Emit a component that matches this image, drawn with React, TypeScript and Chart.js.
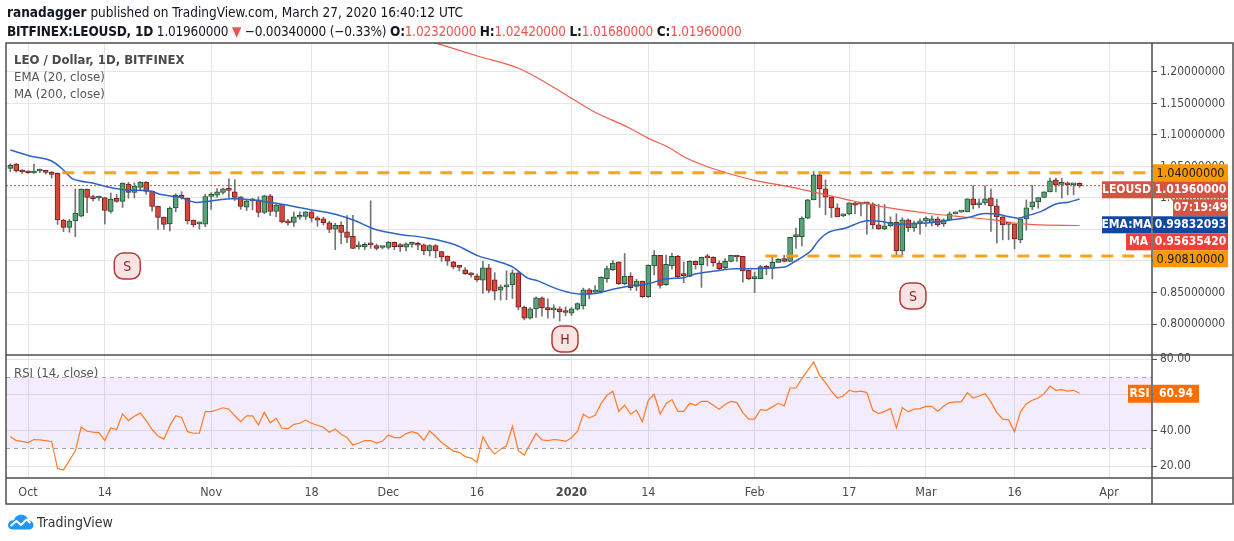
import React, { useEffect, useRef } from 'react';
import { Chart, registerables } from 'chart.js';

Chart.register(...registerables);

const FONT = "'Liberation Sans Narrow', 'DejaVu Sans Condensed', 'Liberation Sans', sans-serif";

// Daily candles, day 0 = 2019-09-28, last = 2020-03-27
const START_DATE = '2019-09-28';
const OPEN = [
  1.047, 1.054, 1.0434, 1.042, 1.0397, 1.0428, 1.0429, 1.0413, 1.039, 0.965,
  0.9534, 0.9635, 0.971, 1.0143, 1.0016, 1.0, 1.0005, 0.9788, 1.0, 0.9947,
  1.0222, 1.009, 1.0169, 1.0254, 1.0111, 0.9873, 0.9698, 0.9587, 0.9841, 1.0048,
  1.0, 0.9651, 0.959, 0.9585, 1.0026, 1.0045, 1.0087, 1.014, 1.0098, 1.0018,
  0.9854, 0.9955, 0.997, 0.977, 1.0034, 0.9786, 0.99, 0.9637, 0.9611, 0.9695,
  0.9706, 0.978, 0.9685, 0.967, 0.9606, 0.9507, 0.9568, 0.9463, 0.9394, 0.9225,
  0.9225, 0.9262, 0.9246, 0.9214, 0.9214, 0.9295, 0.9235, 0.922, 0.9265, 0.9272,
  0.9257, 0.9161, 0.9246, 0.915, 0.9077, 0.8987, 0.8918, 0.886, 0.8796, 0.8765,
  0.8696, 0.8892, 0.87, 0.8537, 0.859, 0.8622, 0.8812, 0.8267, 0.8093, 0.824,
  0.8415, 0.8262, 0.8225, 0.824, 0.8204, 0.8172, 0.8236, 0.8288, 0.8542, 0.8505,
  0.8515, 0.872, 0.8862, 0.8984, 0.864, 0.8757, 0.8598, 0.8683, 0.8434, 0.8921,
  0.909, 0.8624, 0.8921, 0.9074, 0.8775, 0.8757, 0.8995, 0.8942, 0.9055, 0.9058,
  0.8968, 0.8894, 0.8995, 0.909, 0.9074, 0.8852, 0.872, 0.872, 0.8915, 0.8884,
  0.8979, 0.9037, 0.8995, 0.9386, 0.9386, 0.968, 0.9971, 1.0368, 1.0146, 1.0013,
  0.9844, 0.9717, 0.9749, 0.9923, 0.9902, 0.9928, 0.9907, 0.9574, 0.9511, 0.9558,
  0.9616, 0.9161, 0.9653, 0.9526, 0.9606, 0.9632, 0.9606, 0.9669, 0.959, 0.9653,
  0.9749, 0.9775, 0.978, 0.9987, 0.9892, 0.9923, 1.0003, 0.9876, 0.9701, 0.958,
  0.959, 0.9336, 0.9669, 0.986, 0.9939, 1.0008, 1.0098, 1.0288, 1.0215, 1.0241,
  1.0209, 1.0232,
];
const HIGH = [
  1.0545, 1.055, 1.045, 1.043, 1.054, 1.046, 1.044, 1.042, 1.04, 0.966,
  0.966, 1.0143, 1.0143, 1.0143, 1.0048, 1.0032, 1.0005, 1.008, 1.006, 1.024,
  1.0248, 1.024, 1.026, 1.026, 1.0111, 0.9873, 0.9698, 0.986, 1.0068, 1.01,
  1.0, 0.9651, 0.962, 1.006, 1.0087, 1.015, 1.0156, 1.0305, 1.029, 1.002,
  0.998, 0.9995, 1.002, 1.0045, 1.006, 0.991, 0.99, 0.9662, 0.9775, 0.978,
  0.9785, 0.98, 0.9706, 0.9695, 0.963, 0.96, 0.962, 0.972, 0.9725, 0.9304,
  0.929, 0.9955, 0.927, 0.923, 0.931, 0.9304, 0.9278, 0.929, 0.9293, 0.93,
  0.927, 0.926, 0.926, 0.9155, 0.908, 0.8995, 0.893, 0.8897, 0.8815, 0.8794,
  0.9, 0.8947, 0.8815, 0.862, 0.8847, 0.886, 0.8815, 0.8285, 0.826, 0.843,
  0.843, 0.8399, 0.8305, 0.8273, 0.8272, 0.826, 0.8336, 0.857, 0.8565, 0.8608,
  0.875, 0.892, 0.9005, 0.899, 0.912, 0.8815, 0.8712, 0.8683, 0.894, 0.9165,
  0.909, 0.9095, 0.9127, 0.909, 0.8984, 0.9005, 0.9, 0.9063, 0.9105, 0.907,
  0.9, 0.904, 0.909, 0.909, 0.9074, 0.8852, 0.8826, 0.8931, 0.893, 0.9063,
  0.904, 0.909, 0.9376, 0.9524, 0.97, 0.998, 1.0421, 1.0421, 1.0288, 1.0013,
  0.9907, 0.9749, 0.9923, 0.9933, 0.9933, 0.9933, 0.9923, 0.99, 0.9897, 0.9701,
  0.9749, 0.9686, 0.9669, 0.9632, 0.9669, 0.9701, 0.9717, 0.9701, 0.9669, 0.978,
  0.978, 0.979, 0.9987, 1.0195, 0.9987, 1.0195, 1.0146, 0.998, 0.9705, 0.9595,
  0.959, 0.9669, 0.997, 1.0199, 1.0008, 1.0098, 1.0315, 1.0315, 1.0315, 1.0255,
  1.0225, 1.0242,
];
const LOW = [
  1.042, 1.041, 1.039, 1.039, 1.039, 1.04, 1.038, 1.0317, 0.958, 0.9466,
  0.9455, 0.9386, 0.97, 0.9767, 0.9952, 0.996, 0.9587, 0.976, 0.993, 0.985,
  0.9995, 1.0, 1.012, 1.006, 0.979, 0.95, 0.95, 0.9476, 0.978, 0.998,
  0.9587, 0.954, 0.9505, 0.9545, 0.982, 1.001, 1.006, 1.0, 0.996, 0.982,
  0.98, 0.981, 0.97, 0.975, 0.972, 0.9705, 0.9605, 0.957, 0.955, 0.966,
  0.966, 0.962, 0.955, 0.957, 0.945, 0.918, 0.927, 0.929, 0.9196, 0.9188,
  0.918, 0.92, 0.9175, 0.919, 0.9186, 0.918, 0.915, 0.916, 0.922, 0.918,
  0.91, 0.908, 0.905, 0.8993, 0.893, 0.8874, 0.8843, 0.8785, 0.8743, 0.8675,
  0.8484, 0.8495, 0.8384, 0.838, 0.8384, 0.8405, 0.8225, 0.8065, 0.8075, 0.8104,
  0.8125, 0.8093, 0.8093, 0.8046, 0.813, 0.8135, 0.822, 0.8235, 0.84, 0.848,
  0.849, 0.866, 0.8852, 0.8624, 0.862, 0.8535, 0.853, 0.842, 0.842, 0.878,
  0.857, 0.8614, 0.887, 0.8724, 0.8656, 0.8752, 0.8873, 0.858, 0.8921, 0.8915,
  0.8862, 0.8878, 0.8984, 0.8995, 0.8663, 0.87, 0.8497, 0.872, 0.878, 0.8715,
  0.8979, 0.8984, 0.8995, 0.92, 0.9238, 0.967, 0.9971, 0.985, 0.9733, 0.969,
  0.9701, 0.9701, 0.9733, 0.9749, 0.9717, 0.9426, 0.9511, 0.95, 0.9495, 0.954,
  0.9098, 0.9098, 0.9468, 0.9468, 0.9426, 0.9548, 0.9558, 0.9548, 0.9548, 0.9653,
  0.9749, 0.977, 0.978, 0.9826, 0.9844, 0.989, 0.9468, 0.9283, 0.9336, 0.9336,
  0.9193, 0.929, 0.949, 0.9812, 0.984, 1.0, 1.0098, 1.0098, 1.0, 1.005,
  1.005, 1.0168,
];
const CLOSE = [
  1.052, 1.043, 1.0413, 1.04, 1.0429, 1.0434, 1.0407, 1.0376, 0.965, 0.9534,
  0.9635, 0.9762, 1.0143, 1.001, 0.999, 1.0005, 0.9804, 0.9984, 0.9947, 1.0238,
  1.009, 1.019, 1.0254, 1.0106, 0.9868, 0.9693, 0.9582, 0.9841, 1.0048, 1.0,
  0.9635, 0.9571, 0.9595, 1.0024, 1.0045, 1.0098, 1.0146, 1.012, 1.0008, 0.9865,
  0.9955, 0.996, 0.977, 1.0034, 0.9786, 0.9886, 0.962, 0.9606, 0.97, 0.97,
  0.978, 0.968, 0.9648, 0.961, 0.95, 0.9568, 0.9452, 0.9373, 0.9198, 0.923,
  0.9263, 0.9257, 0.9198, 0.9218, 0.9299, 0.9228, 0.9228, 0.9272, 0.927, 0.925,
  0.9161, 0.9246, 0.9161, 0.9066, 0.8997, 0.8907, 0.89, 0.8796, 0.878, 0.87,
  0.8892, 0.8532, 0.8521, 0.859, 0.8622, 0.8812, 0.8267, 0.8093, 0.824, 0.8415,
  0.8257, 0.8225, 0.8257, 0.8193, 0.8183, 0.8241, 0.8326, 0.8542, 0.8474, 0.8527,
  0.874, 0.8878, 0.8968, 0.864, 0.8762, 0.8577, 0.8683, 0.8434, 0.8931, 0.909,
  0.8614, 0.8947, 0.9074, 0.8751, 0.8767, 0.8995, 0.8942, 0.9058, 0.905, 0.8974,
  0.8878, 0.8995, 0.909, 0.9063, 0.8841, 0.872, 0.873, 0.891, 0.8878, 0.8979,
  0.9026, 0.8995, 0.9376, 0.9392, 0.9683, 0.9971, 1.0368, 1.0146, 1.0013, 0.9844,
  0.9701, 0.9749, 0.9923, 0.9886, 0.9923, 0.9907, 0.9574, 0.9511, 0.9558, 0.9616,
  0.9161, 0.9653, 0.9526, 0.9606, 0.9632, 0.968, 0.9669, 0.9574, 0.9653, 0.9749,
  0.978, 0.978, 0.9987, 0.9892, 0.9923, 0.9987, 0.9876, 0.9701, 0.9574, 0.9595,
  0.9352, 0.9669, 0.9844, 0.9939, 1.0008, 1.0098, 1.0272, 1.0209, 1.023, 1.0209,
  1.0225, 1.0196,
];

// EMA(20) at day positions
const EMA_DAYS = [0, 3.3, 7, 9, 10.4, 11.8, 14.1, 16.3, 19.7, 23.7, 25.3, 28.7, 31.5, 37.5, 41.4, 46, 50.4, 55, 58.4, 61.7, 65.5, 70.7, 75.3, 79.2, 82.1, 84.9, 87.6, 89.3, 92.2, 95.1, 96.8, 99, 102.4, 104.6, 108, 111.3, 113.7, 115.9, 119.3, 122.7, 126.1, 128.3, 131.1, 132.8, 134.5, 135.5, 136.8, 138.4, 141.3, 145.2, 147.6, 149.8, 153.7, 156.5, 159.4, 162.1, 165, 167.2, 168.9, 170.6, 172.3, 174.7, 176.9, 179.1, 181];
const EMA_VALUES = [1.0762, 1.0667, 1.0587, 1.0444, 1.0312, 1.027, 1.0233, 1.018, 1.0127, 1.0111, 1.0058, 1.0011, 0.993, 0.9987, 0.9966, 0.99, 0.9823, 0.9743, 0.9638, 0.9505, 0.943, 0.9362, 0.9257, 0.9082, 0.9003, 0.8913, 0.8728, 0.8685, 0.8569, 0.849, 0.8474, 0.8483, 0.856, 0.8598, 0.864, 0.872, 0.873, 0.8794, 0.8841, 0.8878, 0.8878, 0.8889, 0.8905, 0.8992, 0.909, 0.916, 0.932, 0.945, 0.9521, 0.9638, 0.9627, 0.9585, 0.9595, 0.9616, 0.9653, 0.969, 0.9755, 0.9743, 0.9706, 0.968, 0.9722, 0.9796, 0.9902, 0.9934, 0.9983];

// MA(200)
const MA_DAYS = [70, 72.9, 79.2, 85.9, 89.8, 94.9, 98.5, 104.8, 108.1, 111.1, 114.2, 117.8, 121.3, 126, 131.6, 135.5, 137.9, 142.2, 147.3, 155, 161.5, 166.2, 170, 173.3, 181];
const MA_VALUES = [1.252, 1.2434, 1.2249, 1.2063, 1.1878, 1.1587, 1.1386, 1.1111, 1.0942, 1.082, 1.0646, 1.0503, 1.0397, 1.028, 1.0185, 1.0106, 1.0053, 0.9963, 0.9868, 0.9762, 0.9698, 0.9656, 0.9603, 0.9577, 0.95635];

// RSI(14), one value per candle
const RSI_VALUES = [
  36.7, 34.4, 33.9,
  33.3, 35.0, 34.8, 34.4, 33.9, 18.7, 17.8, 23.3, 28.5, 42.0, 39.6, 39.1, 38.9, 34.4, 41.5, 40.6, 49.4, 45.6, 48.0, 49.8, 45.6, 40.6, 36.9, 35.2, 42.8, 48.3, 47.4, 39.4, 38.5, 38.5, 50.6,
  50.6, 51.7, 52.8, 52.0, 48.3, 45.0, 48.3, 48.3, 43.1, 50.2, 44.4, 46.9, 41.3, 41.1, 43.5, 44.1, 45.9, 44.1, 43.0, 41.9, 39.1, 40.9, 38.0, 36.1, 31.9, 33.0, 34.4, 34.4, 33.0, 34.1,
  37.6, 36.1, 36.1, 38.3, 39.4, 38.3, 34.6, 39.8, 36.7, 33.3, 30.9, 28.5, 27.8, 25.4, 24.6, 22.2, 36.5, 30.7, 26.9, 29.6, 31.5, 42.4, 28.7, 26.3, 32.4, 38.3, 34.8, 34.4, 35.0, 34.6, 33.9,
  36.0, 39.5, 49.2, 47.1, 48.6, 55.1, 59.8, 62.1, 50.8, 54.2, 49.3, 51.4, 44.9, 57.0, 60.4, 49.3, 55.1, 57.4, 50.8, 50.8, 55.3, 54.2, 56.4, 56.4, 54.2, 52.0, 54.6, 56.4, 55.7, 50.1, 46.4,
  46.4, 51.8, 51.4, 53.3, 55.3, 53.8, 63.9, 63.9, 69.2, 73.8, 78.5, 71.0, 66.9, 62.1, 58.3, 59.4, 62.6, 61.7, 62.1, 61.3, 51.4, 49.5, 50.8, 52.3, 41.5, 52.9, 50.5, 52.0, 52.3,
  53.6, 53.6, 50.8, 53.6, 55.7, 56.1, 56.1, 61.3, 58.3, 59.4, 60.7, 56.1, 50.1, 46.4, 46.0, 39.3, 50.5, 55.1, 57.0, 58.3, 60.7, 65.0, 62.6, 63.0, 62.1, 62.6, 60.94,
];

const X_TICK_DAYS = [3, 16, 34, 51, 64, 79, 95, 108, 126, 142, 155, 170, 186];
const X_TICK_LABELS = ['Oct', '14', 'Nov', '18', 'Dec', '16', '2020', '14', 'Feb', '17', 'Mar', '16', 'Apr'];
const PRICE_TICKS = [0.8, 0.85, 0.9, 0.95, 1.0, 1.05, 1.1, 1.15, 1.2];
const RSI_TICKS = [20, 40, 60, 80];

const RESISTANCE = 1.04;
const RESISTANCE_FROM_DAY = 8.8;
const SUPPORT = 0.9081;
const SUPPORT_FROM_DAY = 127.8;
const LAST_CLOSE = 1.0196;
const EMA_LAST = 0.99832093;
const MA_LAST = 0.9563542;
const RSI_LAST = 60.94;
const RSI_UPPER = 70;
const RSI_LOWER = 30;
const COUNTDOWN = '07:19:49';

const PATTERN_LABELS = ['S', 'H', 'S'];
const PATTERN_DAYS = [19.8, 93.9, 152.8];
const PATTERN_PRICES = [0.892, 0.7762, 0.8444];

// view ranges
const X_MIN = -0.73;
const X_MAX = 193.27;
const P_MIN = 0.7508;
const P_MAX = 1.246;
const R_MIN = 13.4;
const R_MAX = 82.4;

const UP_FILL = '#5ba27c';
const UP_BORDER = '#1e5632';
const DOWN_FILL = '#d6473b';
const DOWN_BORDER = '#781e1e';
const WICK = '#747474';
const EMA_COLOR = '#2e63c6';
const MA_COLOR = '#f25c4c';
const ORANGE = '#ff9800';
const RSI_COLOR = '#ff7a22';

function drawTag(ctx: CanvasRenderingContext2D, x1: number, x2: number, top: number, h: number, bg: string, text: string, color: string, font: string) {
  ctx.fillStyle = bg;
  ctx.fillRect(x1, top, x2 - x1, h);
  ctx.fillStyle = color;
  ctx.font = font;
  ctx.textAlign = 'center';
  ctx.textBaseline = 'middle';
  ctx.fillText(text, (x1 + x2) / 2, top + h / 2 + 0.5);
}

const overlayPlugin = {
  id: 'tvOverlay',
  beforeDatasetsDraw(chart: any) {
    const { ctx, chartArea } = chart;
    const yr = chart.scales.yr;
    const t = yr.getPixelForValue(RSI_UPPER);
    const b = yr.getPixelForValue(RSI_LOWER);
    ctx.save();
    ctx.fillStyle = 'rgba(150, 80, 230, 0.11)';
    ctx.fillRect(chartArea.left, t, chartArea.right - chartArea.left, b - t);
    ctx.setLineDash([4, 4]);
    ctx.strokeStyle = '#a3a3a3';
    ctx.lineWidth = 1;
    [t, b].forEach((y) => {
      ctx.beginPath();
      ctx.moveTo(chartArea.left, Math.round(y) + 0.5);
      ctx.lineTo(chartArea.right, Math.round(y) + 0.5);
      ctx.stroke();
    });
    ctx.restore();
  },
  afterDraw(chart: any) {
    const { ctx, chartArea } = chart;
    const xs = chart.scales.x;
    const ys = chart.scales.y;
    const yr = chart.scales.yr;
    ctx.save();

    // pattern badges
    PATTERN_LABELS.forEach((lab, i) => {
      const px = xs.getPixelForValue(PATTERN_DAYS[i]);
      const py = ys.getPixelForValue(PATTERN_PRICES[i]);
      ctx.beginPath();
      (ctx as any).roundRect(px - 13, py - 13, 26, 26, 9);
      ctx.fillStyle = '#f9e3e3';
      ctx.fill();
      ctx.lineWidth = 1.5;
      ctx.strokeStyle = '#b53b3b';
      ctx.stroke();
      ctx.fillStyle = '#8c1f1f';
      ctx.font = `14px ${FONT}`;
      ctx.textAlign = 'center';
      ctx.textBaseline = 'middle';
      ctx.fillText(lab, px, py + 1);
    });

    // frame
    const L = 6, T = chartArea.top, R = 1233, B = 504;
    ctx.strokeStyle = '#4d4d4d';
    ctx.lineWidth = 1.5;
    ctx.setLineDash([]);
    ctx.strokeRect(L, T, R - L, B - T);
    const paneSep = ys.bottom;
    ctx.beginPath();
    ctx.moveTo(L, paneSep); ctx.lineTo(R, paneSep);
    ctx.moveTo(L, chartArea.bottom); ctx.lineTo(R, chartArea.bottom);
    ctx.moveTo(chartArea.right, T); ctx.lineTo(chartArea.right, B);
    ctx.stroke();

    // axis tags
    const h = 17;
    const vx1 = chartArea.right + 1;
    const vx2 = 1228;
    const valFont = `bold 12px ${FONT}`;
    const items = [
      { v: RESISTANCE, kind: 'res' },
      { v: LAST_CLOSE, kind: 'last' },
      { v: EMA_LAST, kind: 'ema' },
      { v: MA_LAST, kind: 'ma' },
      { v: SUPPORT, kind: 'sup' },
    ].map((it) => ({ ...it, y: ys.getPixelForValue(it.v) })).sort((a, b2) => a.y - b2.y);
    let prevBottom = -Infinity;
    items.forEach((it) => {
      const top = Math.max(it.y - h / 2, prevBottom);
      if (it.kind === 'res' || it.kind === 'sup') {
        drawTag(ctx, vx1, vx2, top, h, ORANGE, it.v.toFixed(8), '#131722', `12.5px ${FONT}`);
        prevBottom = top + h;
      } else if (it.kind === 'last') {
        drawTag(ctx, chartArea.right - 50, chartArea.right - 1, top, h, '#d65344', 'LEOUSD', '#fff', valFont);
        drawTag(ctx, vx1, vx2, top, h, '#d65344', it.v.toFixed(8), '#fff', valFont);
        drawTag(ctx, 1173, vx2, top + h + 1, h, '#d65344', COUNTDOWN, '#fff', valFont);
        prevBottom = top + 2 * h + 1;
      } else if (it.kind === 'ema') {
        drawTag(ctx, chartArea.right - 50, chartArea.right - 1, top, h, '#0f47a1', 'EMA:MA', '#fff', valFont);
        drawTag(ctx, vx1, vx2, top, h, '#0f47a1', it.v.toFixed(8), '#fff', valFont);
        prevBottom = top + h;
      } else {
        drawTag(ctx, chartArea.right - 26, chartArea.right - 1, top, h, '#f23f3a', 'MA', '#fff', valFont);
        drawTag(ctx, vx1, vx2, top, h, '#f23f3a', it.v.toFixed(8), '#fff', valFont);
        prevBottom = top + h;
      }
    });
    const ry = yr.getPixelForValue(RSI_LAST);
    drawTag(ctx, chartArea.right - 24, chartArea.right - 1, ry - h / 2, h + 1, '#ff6d00', 'RSI', '#fff', valFont);
    drawTag(ctx, vx1, 1199, ry - h / 2, h + 1, '#ff6d00', RSI_LAST.toFixed(2), '#fff', valFont);
    ctx.restore();
  },
};

export default function App() {
  const canvasRef = useRef<HTMLCanvasElement | null>(null);

  useEffect(() => {
    const canvas = canvasRef.current;
    if (!canvas) return;
    Chart.defaults.font.family = FONT;

    const days = OPEN.map((_, i) => i);
    const up = OPEN.map((o, i) => CLOSE[i] >= o);
    const wickData = days.map((i) => ({ x: i, y: [LOW[i], HIGH[i]] }));
    const bodyData = days.map((i) => ({ x: i, y: [Math.min(OPEN[i], CLOSE[i]), Math.max(OPEN[i], CLOSE[i])] }));

    const chart = new Chart(canvas, {
      type: 'bar',
      data: {
        datasets: [
          {
            type: 'line', label: 'Resistance', yAxisID: 'y', order: 0,
            data: [{ x: RESISTANCE_FROM_DAY, y: RESISTANCE }, { x: X_MAX + 5, y: RESISTANCE }],
            borderColor: 'rgba(255,152,0,0.9)', borderWidth: 3, borderDash: [12, 9], pointRadius: 0,
          },
          {
            type: 'line', label: 'Support', yAxisID: 'y', order: 0,
            data: [{ x: SUPPORT_FROM_DAY, y: SUPPORT }, { x: X_MAX + 5, y: SUPPORT }],
            borderColor: 'rgba(255,152,0,0.9)', borderWidth: 3, borderDash: [12, 9], pointRadius: 0,
          },
          {
            type: 'line', label: 'Last', yAxisID: 'y', order: 0,
            data: [{ x: X_MIN, y: LAST_CLOSE }, { x: X_MAX, y: LAST_CLOSE }],
            borderColor: '#e53935', borderWidth: 1, borderDash: [2, 2], pointRadius: 0,
          },
          {
            type: 'line', label: 'EMA 20', yAxisID: 'y', order: 1,
            data: EMA_DAYS.map((d, i) => ({ x: d, y: EMA_VALUES[i] })),
            borderColor: EMA_COLOR, borderWidth: 1.5, pointRadius: 0, cubicInterpolationMode: 'monotone',
          },
          {
            type: 'line', label: 'MA 200', yAxisID: 'y', order: 1,
            data: MA_DAYS.map((d, i) => ({ x: d, y: MA_VALUES[i] })),
            borderColor: MA_COLOR, borderWidth: 1.2, pointRadius: 0, cubicInterpolationMode: 'monotone',
          },
          {
            type: 'line', label: 'RSI', yAxisID: 'yr', order: 1,
            data: days.map((i) => ({ x: i, y: RSI_VALUES[i] })),
            borderColor: RSI_COLOR, borderWidth: 1.2, pointRadius: 0, tension: 0,
          },
          {
            type: 'bar', label: 'Bodies', yAxisID: 'y', order: 2,
            data: bodyData as any,
            backgroundColor: up.map((u) => (u ? UP_FILL : DOWN_FILL)),
            borderColor: up.map((u) => (u ? UP_BORDER : DOWN_BORDER)),
            borderWidth: 1, borderSkipped: false, barThickness: 5, grouped: false, minBarLength: 2,
          },
          {
            type: 'bar', label: 'Wicks', yAxisID: 'y', order: 3,
            data: wickData as any,
            backgroundColor: WICK, borderWidth: 0, barThickness: 1, grouped: false,
          },
        ] as any,
      },
      options: {
        animation: false,
        responsive: true,
        maintainAspectRatio: false,
        events: [],
        layout: { padding: { left: 6, top: 43, right: 0, bottom: 37 } },
        plugins: { legend: { display: false }, tooltip: { enabled: false } },
        scales: {
          x: {
            type: 'linear', position: 'bottom', min: X_MIN, max: X_MAX, offset: false,
            afterBuildTicks: (s: any) => { s.ticks = X_TICK_DAYS.map((v) => ({ value: v })); },
            afterFit: (s: any) => { s.height = 26; },
            ticks: {
              autoSkip: false, maxRotation: 0, padding: 7, color: '#4a4a4a',
              font: (c: any) => ({ size: 12.5, family: FONT, weight: X_TICK_LABELS[c.index] === '2020' ? 'bold' : 'normal' }),
              callback: (_v: any, i: number) => X_TICK_LABELS[i],
            },
            grid: { color: '#e6e6e6', drawTicks: false, offset: false },
            border: { display: false },
          },
          y: {
            type: 'linear', position: 'right', stack: 'panes', stackWeight: 312, min: P_MIN, max: P_MAX,
            afterBuildTicks: (s: any) => { s.ticks = PRICE_TICKS.map((v) => ({ value: v })); },
            afterFit: (s: any) => { s.width = 82; },
            ticks: { padding: 3, color: '#4a4a4a', font: { size: 12 }, callback: (v: any) => Number(v).toFixed(8) },
            grid: { color: '#e6e6e6', tickLength: 5, tickColor: '#555', drawTicks: true },
            border: { display: false },
          },
          yr: {
            type: 'linear', position: 'right', stack: 'panes', stackWeight: 123, min: R_MIN, max: R_MAX,
            afterBuildTicks: (s: any) => { s.ticks = RSI_TICKS.map((v) => ({ value: v })); },
            afterFit: (s: any) => { s.width = 82; },
            ticks: { padding: 3, color: '#4a4a4a', font: { size: 12 }, callback: (v: any) => Number(v).toFixed(2) },
            grid: { color: '#e3e3e3', tickLength: 5, tickColor: '#555', drawTicks: true },
            border: { display: false },
          },
        },
      } as any,
      plugins: [overlayPlugin],
    });
    return () => chart.destroy();
  }, []);

  const red = { color: '#ef5350' };
  const legendStyle: React.CSSProperties = { position: 'absolute', left: 14, fontSize: 13, color: '#555', lineHeight: '16px', whiteSpace: 'nowrap' };

  return (
    <div style={{ position: 'fixed', left: 0, top: 0, width: 1234, height: 541, background: '#fff', fontFamily: FONT, overflow: 'hidden' }}>
      <div style={{ position: 'absolute', left: 0, top: 0, width: 1234, height: 541 }}>
        <canvas ref={canvasRef} data-start={START_DATE} />
      </div>
      <div style={{ position: 'absolute', left: 7, top: 4, fontSize: 13.5, color: '#131722', lineHeight: '17px', whiteSpace: 'nowrap' }}>
        <b>ranadagger</b> published on TradingView.com, March 27, 2020 16:40:12 UTC
      </div>
      <div style={{ position: 'absolute', left: 7, top: 23, fontSize: 13.5, color: '#131722', lineHeight: '17px', whiteSpace: 'nowrap', letterSpacing: '-0.2px' }}>
        <b>BITFINEX:LEOUSD, 1D</b> 1.01960000 <span style={red}>▼</span> −0.00340000 (−0.33%) <b>O:</b><span style={red}>1.02320000</span> <b>H:</b><span style={red}>1.02420000</span> <b>L:</b><span style={red}>1.01680000</span> <b>C:</b><span style={red}>1.01960000</span>
      </div>
      <div style={{ ...legendStyle, top: 52, color: '#4a4a4a', fontWeight: 'bold' }}>LEO / Dollar, 1D, BITFINEX</div>
      <div style={{ ...legendStyle, top: 69 }}>EMA (20, close)</div>
      <div style={{ ...legendStyle, top: 86 }}>MA (200, close)</div>
      <div style={{ ...legendStyle, top: 365 }}>RSI (14, close)</div>
      <div style={{ position: 'absolute', left: 7, top: 513, display: 'flex', alignItems: 'center', gap: 3 }}>
        <svg width="27" height="17" viewBox="0 0 27 17">
          <path d="M6 16.5 C2 16.5 0.5 13.5 1.2 11 C2 8 4.5 6.8 7 7.3 C8 3.3 11.5 1 15.5 1.8 C18.8 2.5 20.8 4.8 21.2 7.3 C24.3 7.3 26.5 9.6 26.5 12.3 C26.5 15 24.5 16.5 22 16.5 Z" fill="#2196f3" />
          <polyline points="3.5,13 9.5,8 14,12 19.5,6.5 23.5,10" stroke="#ffffff" strokeWidth="2" fill="none" strokeLinejoin="round" />
        </svg>
        <span style={{ fontSize: 14, color: '#333' }}>TradingView</span>
      </div>
    </div>
  );
}
